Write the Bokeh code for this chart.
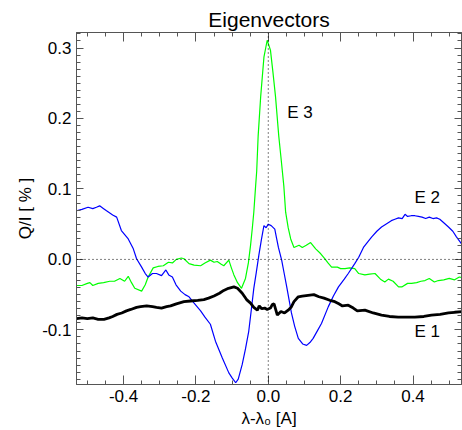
from bokeh.plotting import figure
from bokeh.models import (Range1d, LinearAxis, SingleIntervalTicker, PrintfTickFormatter,
                          CustomJSTickFormatter, Span, ColumnDataSource)
from bokeh.core.properties import value
from bokeh.embed import file_html
from bokeh.resources import INLINE

FONT = "Liberation Sans"

# E1 (black)
e1_x = [-0.530, -0.515, -0.500, -0.485, -0.470, -0.454, -0.440, -0.430, -0.418, -0.405,
        -0.392, -0.380, -0.364, -0.353, -0.336, -0.320, -0.309, -0.295, -0.281, -0.270,
        -0.254, -0.233, -0.215, -0.195, -0.178, -0.165, -0.150, -0.135, -0.123, -0.110,
        -0.095, -0.085, -0.072, -0.060, -0.049, -0.040, -0.030, -0.025, -0.018, -0.010,
        -0.003, 0.006, 0.011, 0.016, 0.025, 0.035, 0.045, 0.055, 0.063, 0.071,
        0.083, 0.094, 0.110, 0.126, 0.140, 0.154, 0.170, 0.184, 0.195, 0.205,
        0.221, 0.235, 0.246, 0.267, 0.290, 0.313, 0.335, 0.359, 0.380, 0.405,
        0.430, 0.451, 0.475, 0.498, 0.515, 0.537]
e1_y = [-0.084, -0.083, -0.084, -0.083, -0.085, -0.085, -0.083, -0.081, -0.078, -0.076,
        -0.073, -0.071, -0.068, -0.067, -0.066, -0.067, -0.068, -0.069, -0.067, -0.066,
        -0.063, -0.060, -0.059, -0.058, -0.057, -0.055, -0.052, -0.048, -0.044, -0.041,
        -0.039, -0.041, -0.048, -0.057, -0.062, -0.068, -0.072, -0.066, -0.070, -0.069,
        -0.071, -0.069, -0.064, -0.063, -0.079, -0.074, -0.076, -0.072, -0.068, -0.060,
        -0.053, -0.052, -0.051, -0.050, -0.053, -0.055, -0.058, -0.060, -0.063, -0.066,
        -0.065, -0.069, -0.073, -0.072, -0.076, -0.079, -0.081, -0.082, -0.082, -0.082,
        -0.081, -0.079, -0.078, -0.076, -0.075, -0.074]

# E2 (blue)
e2_x = [-0.530, -0.515, -0.498, -0.485, -0.475, -0.466, -0.455, -0.447, -0.430, -0.419,
        -0.406, -0.387, -0.373, -0.364, -0.350, -0.340, -0.332, -0.320, -0.309, -0.295,
        -0.283, -0.275, -0.265, -0.255, -0.242, -0.230, -0.219, -0.205, -0.187, -0.175,
        -0.160, -0.146, -0.127, -0.109, -0.100, -0.090, -0.083, -0.072, -0.063, -0.054,
        -0.047, -0.040, -0.033, -0.026, -0.019, -0.012, -0.006, 0.000, 0.008, 0.018,
        0.023, 0.028, 0.037, 0.044, 0.051, 0.064, 0.073, 0.083, 0.095, 0.106,
        0.115, 0.124, 0.136, 0.147, 0.166, 0.180, 0.194, 0.210, 0.221, 0.239,
        0.250, 0.263, 0.275, 0.286, 0.300, 0.313, 0.325, 0.340, 0.350, 0.360,
        0.370, 0.378, 0.385, 0.395, 0.405, 0.415, 0.425, 0.435, 0.445, 0.455,
        0.465, 0.474, 0.485, 0.498, 0.510, 0.520, 0.537]
e2_y = [0.069, 0.071, 0.074, 0.072, 0.074, 0.076, 0.072, 0.069, 0.063, 0.060,
        0.041, 0.029, 0.015, 0.001, -0.011, -0.020, -0.025, -0.020, -0.020, -0.023,
        -0.015, -0.022, -0.025, -0.036, -0.045, -0.050, -0.053, -0.062, -0.073, -0.082,
        -0.092, -0.116, -0.140, -0.161, -0.168, -0.175, -0.170, -0.149, -0.127, -0.102,
        -0.072, -0.041, -0.018, 0.006, 0.028, 0.048, 0.045, 0.050, 0.048, 0.043,
        0.030, 0.017, -0.001, -0.020, -0.039, -0.076, -0.095, -0.112, -0.120, -0.122,
        -0.118, -0.112, -0.101, -0.091, -0.067, -0.052, -0.039, -0.028, -0.020, -0.006,
        0.003, 0.017, 0.025, 0.032, 0.040, 0.046, 0.050, 0.055, 0.057, 0.059,
        0.058, 0.064, 0.061, 0.062, 0.062, 0.061, 0.060, 0.058, 0.060, 0.058,
        0.059, 0.057, 0.052, 0.046, 0.040, 0.032, 0.020]

# E3 (green)
e3_x = [-0.530, -0.515, -0.500, -0.493, -0.485, -0.470, -0.455, -0.438, -0.425, -0.410,
        -0.397, -0.387, -0.378, -0.369, -0.350, -0.340, -0.332, -0.318, -0.305, -0.290,
        -0.276, -0.265, -0.254, -0.240, -0.233, -0.219, -0.205, -0.187, -0.175, -0.160,
        -0.150, -0.141, -0.130, -0.123, -0.109, -0.102, -0.095, -0.085, -0.074, -0.063,
        -0.055, -0.049, -0.044, -0.040, -0.035, -0.032, -0.028, -0.021, -0.012, -0.003,
        0.006, 0.013, 0.020, 0.029, 0.036, 0.043, 0.048, 0.055, 0.062, 0.071,
        0.085, 0.094, 0.105, 0.117, 0.131, 0.145, 0.156, 0.165, 0.175, 0.191,
        0.200, 0.212, 0.225, 0.239, 0.250, 0.267, 0.280, 0.295, 0.310, 0.322,
        0.332, 0.345, 0.360, 0.369, 0.385, 0.396, 0.410, 0.422, 0.433, 0.445,
        0.459, 0.470, 0.485, 0.500, 0.515, 0.528, 0.537]
e3_y = [-0.037, -0.037, -0.034, -0.033, -0.037, -0.034, -0.033, -0.031, -0.031, -0.027,
        -0.031, -0.024, -0.033, -0.041, -0.045, -0.036, -0.025, -0.012, -0.010, -0.009,
        -0.004, -0.005, 0.000, 0.002, 0.001, -0.006, -0.008, -0.009, -0.005, -0.001,
        -0.004, -0.003, -0.007, -0.009, -0.001, -0.012, -0.022, -0.033, -0.041, -0.027,
        -0.005, 0.020, 0.045, 0.067, 0.104, 0.125, 0.175, 0.231, 0.287, 0.311,
        0.297, 0.265, 0.231, 0.175, 0.140, 0.104, 0.067, 0.045, 0.029, 0.017,
        0.020, 0.017, 0.020, 0.024, 0.015, 0.008, 0.001, -0.005, -0.011, -0.011,
        -0.013, -0.013, -0.012, -0.013, -0.020, -0.022, -0.021, -0.020, -0.028, -0.032,
        -0.028, -0.031, -0.039, -0.039, -0.034, -0.034, -0.033, -0.031, -0.030, -0.027,
        -0.032, -0.030, -0.029, -0.027, -0.029, -0.025, -0.026]

label_text = ["E 1", "E 2", "E 3"]
label_x = [0.404, 0.404, 0.0525]
label_y = [-0.102, 0.088, 0.208]

AX = "#555555"

p = figure(width=462, height=430, x_range=Range1d(-0.530, 0.534), y_range=Range1d(-0.1775, 0.322),
           output_backend="svg", toolbar_location=None,
           min_border_left=76, min_border_right=1, min_border_top=32, min_border_bottom=43,
           x_axis_type=None, y_axis_type=None)
p.background_fill_color = "white"
p.border_fill_color = "white"
p.outline_line_color = AX
p.xgrid.visible = False
p.ygrid.visible = False

p.title.text = "Eigenvectors"
p.title.align = "center"
p.title.text_font = FONT
p.title.text_font_size = "21px"
p.title.text_font_style = "normal"
p.title.text_color = "black"
p.title.standoff = 4


def make_axis(kind, labels=True, label=None):
    if kind == "x":
        ticker = SingleIntervalTicker(interval=0.2, num_minor_ticks=4)
        tin, min_in = 9, 4
    else:
        ticker = SingleIntervalTicker(interval=0.1, num_minor_ticks=10)
        tin, min_in = 7, 4
    if labels:
        fmt = PrintfTickFormatter(format="%.1f")
    else:
        fmt = CustomJSTickFormatter(code="return '';")
    ax = LinearAxis(ticker=ticker, formatter=fmt)
    ax.major_tick_in = tin
    ax.major_tick_out = 0
    ax.minor_tick_in = min_in
    ax.minor_tick_out = 0
    ax.axis_line_color = AX
    ax.major_tick_line_color = AX
    ax.minor_tick_line_color = AX
    ax.major_label_text_font = FONT
    ax.major_label_text_font_size = "17px"
    ax.major_label_text_color = "black"
    ax.major_label_standoff = 5 if labels else 0
    if label:
        ax.axis_label = label
        ax.axis_label_text_font = FONT
        ax.axis_label_text_font_size = "17px"
        ax.axis_label_text_font_style = "normal"
        ax.axis_label_text_color = "black"
        ax.axis_label_standoff = 4
    return ax


p.add_layout(make_axis("x", True, "λ-λ₀ [A]"), "below")
p.add_layout(make_axis("y", True, "Q/I [ % ]"), "left")
p.add_layout(make_axis("x", False), "above")
p.add_layout(make_axis("y", False), "right")

p.add_layout(Span(location=0, dimension="width", line_color="black", line_dash="1 3", line_width=1))
p.add_layout(Span(location=0, dimension="height", line_color="black", line_dash="1 3", line_width=1))

p.line(e3_x, e3_y, line_color="#00ff00", line_width=1.2)
p.line(e2_x, e2_y, line_color="#0000ff", line_width=1.2)
p.line(e1_x, e1_y, line_color="black", line_width=2.8)

src = ColumnDataSource(dict(x=label_x, y=label_y, t=label_text))
p.text(x="x", y="y", text="t", source=src, text_font=value(FONT), text_font_size="17px",
       text_baseline="middle", text_align="left", text_color="black")

open("out.html", "w").write(file_html(p, INLINE))
